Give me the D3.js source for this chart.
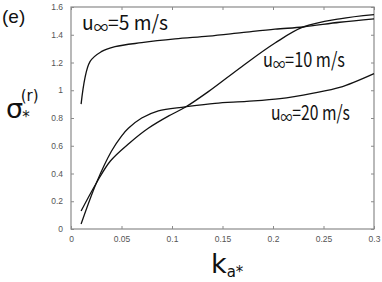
<!DOCTYPE html>
<html><head><meta charset="utf-8">
<script src="https://cdn.jsdelivr.net/npm/d3@7"></script>
<style>body{margin:0;background:#fff}svg{display:block}</style>
</head><body>
<svg id="c" width="382" height="282"></svg>
<script>
const xTicks = [0, 0.05, 0.1, 0.15, 0.2, 0.25, 0.3];
const xTickLabels = ["0", "0.05", "0.1", "0.15", "0.2", "0.25", "0.3"];
const yTicks = [0, 0.2, 0.4, 0.6, 0.8, 1, 1.2, 1.4, 1.6];
const yTickLabels = ["0", "0.2", "0.4", "0.6", "0.8", "1", "1.2", "1.4", "1.6"];

const k5 =  [0.01, 0.0188, 0.03, 0.0436, 0.07, 0.103, 0.136, 0.169, 0.202, 0.23, 0.266, 0.3];
const s5 =  [0.90, 1.206, 1.278, 1.314, 1.343, 1.37, 1.39, 1.415, 1.44, 1.456, 1.49, 1.515];
const k10 = [0.01, 0.025, 0.039, 0.058, 0.0765, 0.098, 0.113, 0.136, 0.169, 0.202, 0.23, 0.266, 0.3];
const s10 = [0.13, 0.33, 0.49, 0.62, 0.726, 0.82, 0.877, 0.99, 1.17, 1.34, 1.456, 1.515, 1.545];
const k20 = [0.01, 0.025, 0.04, 0.05, 0.0568, 0.07, 0.0865, 0.113, 0.1426, 0.174, 0.207, 0.24, 0.266, 0.3];
const s20 = [0.036, 0.33, 0.56, 0.67, 0.726, 0.80, 0.852, 0.88, 0.906, 0.92, 0.94, 0.98, 1.02, 1.12];

const svg = d3.select("#c");
const L = 71, R = 374, T = 7, B = 229;
const x = d3.scaleLinear().domain([0, 0.3]).range([L, R]);
const y = d3.scaleLinear().domain([0, 1.6]).range([B, T]);
const frame = "#8a8a8a", tickCol = "#555";

svg.append("rect").attr("x", L).attr("y", T).attr("width", R - L).attr("height", B - T)
  .attr("fill", "none").attr("stroke", frame).attr("stroke-width", 1.2);

const fmtX = (d, i) => xTickLabels[i];
const fmtY = (d, i) => yTickLabels[i];
const ax = svg.append("g").attr("transform", `translate(0,${B})`)
  .call(d3.axisBottom(x).tickValues(xTicks).tickFormat(fmtX).tickSizeInner(-3).tickSizeOuter(0).tickPadding(7));
const axT = svg.append("g").attr("transform", `translate(0,${T})`)
  .call(d3.axisTop(x).tickValues(xTicks).tickFormat("").tickSizeInner(-3).tickSizeOuter(0));
const ay = svg.append("g").attr("transform", `translate(${L},0)`)
  .call(d3.axisLeft(y).tickValues(yTicks).tickFormat(fmtY).tickSizeInner(-3).tickSizeOuter(0).tickPadding(8));
const ayR = svg.append("g").attr("transform", `translate(${R},0)`)
  .call(d3.axisRight(y).tickValues(yTicks).tickFormat("").tickSizeInner(-3).tickSizeOuter(0));
[ax, axT, ay, ayR].forEach(g => {
  g.select(".domain").remove();
  g.selectAll("line").attr("stroke", frame);
  g.selectAll("text").attr("fill", tickCol).attr("font-family", "Liberation Sans, Arial, sans-serif").attr("font-size", 8.5);
});

const line = d3.line().x(d => x(d[0])).y(d => y(d[1])).curve(d3.curveCatmullRom.alpha(0.5));
[[k5, s5], [k10, s10], [k20, s20]].forEach(([k, s]) => {
  svg.append("path").datum(k.map((v, i) => [v, s[i]])).attr("d", line)
    .attr("fill", "none").attr("stroke", "#111").attr("stroke-width", 1.3);
});

const lf = "'Noto Sans CJK JP', 'DejaVu Sans', sans-serif";
function label(px, py, speed, w) {
  const g = svg.append("g");
  const t = g.append("text").attr("x", 0).attr("y", 0).attr("font-family", lf)
    .attr("font-size", 20).attr("fill", "#111");
  t.append("tspan").text("u");
  t.append("tspan").attr("font-size", 15).attr("dy", 3).text("∞");
  t.append("tspan").attr("dy", -3).text("=" + speed + " m/s");
  const bw = t.node().getComputedTextLength();
  g.attr("transform", `translate(${px},${py}) scale(${w / bw},1)`);
}
label(82, 30, "5", 86);
label(263, 67, "10", 82);
label(271, 120, "20", 79);

svg.append("text").attr("x", 2).attr("y", 23).attr("font-family", "Liberation Sans, Arial, sans-serif")
  .attr("font-size", 19).attr("fill", "#111").text("(e)");

const yl = svg.append("text").attr("x", 6).attr("y", 118).attr("font-family", "'DejaVu Sans', sans-serif")
  .attr("fill", "#111");
yl.append("tspan").attr("font-size", 27).text("σ");
yl.append("tspan").attr("font-size", 15).attr("dx", -1).attr("dy", 4).text("*");
yl.append("tspan").attr("font-size", 15).attr("dx", -9).attr("dy", -21).text("(r)");

const xl = svg.append("text").attr("x", 211).attr("y", 273).attr("font-family", "'DejaVu Sans', sans-serif")
  .attr("fill", "#111");
xl.append("tspan").attr("font-size", 27).text("k");
xl.append("tspan").attr("font-size", 15).attr("dy", 4).text("a*");
</script>
</body></html>
